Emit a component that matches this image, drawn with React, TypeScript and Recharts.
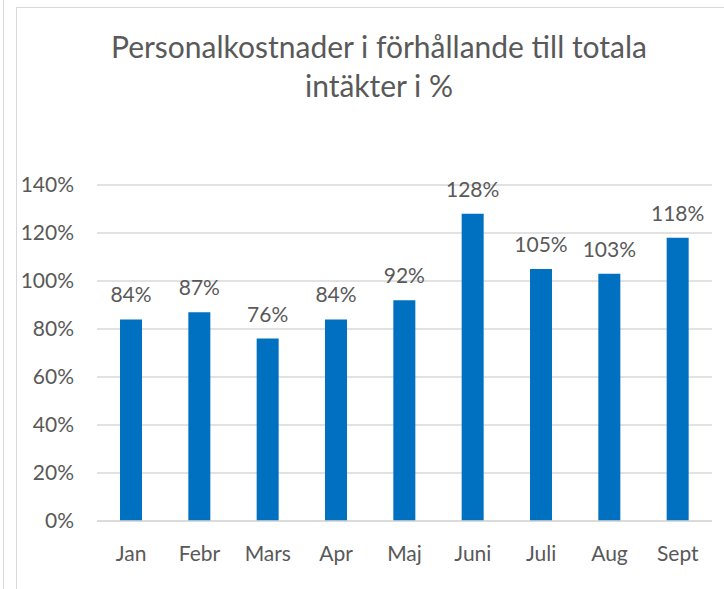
import { BarChart, Bar, XAxis, YAxis, CartesianGrid, LabelList } from 'recharts';

const months = ['Jan', 'Febr', 'Mars', 'Apr', 'Maj', 'Juni', 'Juli', 'Aug', 'Sept'];
const shares = [84, 87, 76, 84, 92, 128, 105, 103, 118];
const yTicks = [0, 20, 40, 60, 80, 100, 120, 140];

const data = months.map((month, i) => ({ month, share: shares[i] }));

const FONT = 'Lato, "Open Sans", sans-serif';
const TEXT = '#595959';
const FRAME = '#d9d9d9';

export default function App() {
  return (
    <div style={{ position: 'absolute', left: 0, top: 0, width: 724, height: 589, background: '#fff', overflow: 'hidden', fontFamily: FONT }}>
      {/* outer frame bits, the chart is cropped on the right and bottom */}
      <div style={{ position: 'absolute', left: 3, top: 0, width: 1, height: 589, background: FRAME }} />
      <div style={{ position: 'absolute', left: 16, top: 7, width: 1, height: 582, background: FRAME }} />
      <div style={{ position: 'absolute', left: 16, top: 7, width: 708, height: 1, background: FRAME }} />

      <div style={{ position: 'absolute', left: 0, top: 27, width: 758, textAlign: 'center', color: TEXT, fontSize: 30, lineHeight: '39px' }}>
        Personalkostnader i förhållande till totala
        <br />
        intäkter i %
      </div>

      <div style={{ position: 'absolute', left: 0, top: 0 }}>
        <BarChart width={724} height={589} data={data} margin={{ top: 185, right: 12, left: 17, bottom: 18 }} barSize={22}>
          <CartesianGrid vertical={false} stroke={FRAME} strokeWidth={1.5} />
          <XAxis
            dataKey="month"
            axisLine={{ stroke: FRAME, strokeWidth: 1.5 }}
            tickLine={false}
            tickSize={0}
            tickMargin={25}
            height={50}
            tick={{ fill: TEXT, fontSize: 21, fontFamily: FONT }}
          />
          <YAxis
            domain={[0, 140]}
            ticks={yTicks}
            width={80}
            axisLine={false}
            tickLine={false}
            tickMargin={17}
            tickFormatter={(v: number) => `${v}%`}
            tick={{ fill: TEXT, fontSize: 21, fontFamily: FONT }}
          />
          <Bar dataKey="share" fill="#0070c0" isAnimationActive={false}>
            <LabelList
              dataKey="share"
              position="top"
              offset={17}
              formatter={(v: number) => `${v}%`}
              style={{ fill: TEXT, fontSize: 21, fontFamily: FONT }}
            />
          </Bar>
        </BarChart>
      </div>
    </div>
  );
}
